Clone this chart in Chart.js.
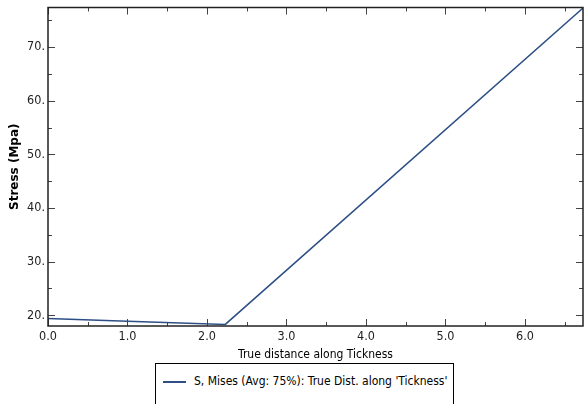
<!DOCTYPE html>
<html><head><meta charset="utf-8">
<script src="https://cdn.jsdelivr.net/npm/chart.js@4"></script>
<style>
html,body{margin:0;padding:0;background:#fff;overflow:hidden;}
#wrap{position:relative;width:585px;height:404px;overflow:hidden;}
#cv{position:absolute;left:0;top:-3px;}
#legend{position:absolute;left:155px;top:363px;width:299px;height:41px;border:1px solid #000;border-bottom:none;box-sizing:border-box;font-family:"DejaVu Sans Condensed","DejaVu Sans",sans-serif;font-stretch:condensed;font-size:12px;color:#000;}
#legend .ln{position:absolute;left:7px;top:17px;width:23px;height:0;border-top:2px solid #2d4f86;}
#legend .tx{position:absolute;left:38px;top:10px;white-space:nowrap;}
</style></head>
<body><div id="wrap"><canvas id="cv" width="585" height="365"></canvas>
<div id="legend"><div class="ln"></div><div class="tx">S, Mises (Avg: 75%): True Dist. along 'Tickness'</div></div></div>
<script>
const xValues = [0.0, 1.0, 2.23, 6.73];
const yValues = [19.4, 18.9, 18.3, 77.3];
const xTicks = [0,1,2,3,4,5,6];
const yTicks = [20,30,40,50,60,70];
const seriesName = "S, Mises (Avg: 75%): True Dist. along 'Tickness'";
const xTitle = "True distance along Tickness";
const yTitle = "Stress (Mpa)";

const condFam = "'DejaVu Sans Condensed','DejaVu Sans',sans-serif";
const tickFont = {family:condFam, size:12.5};

const innerTicks = {
  id:'innerTicks',
  afterDraw(chart){
    const {ctx, chartArea:a, scales:{x,y}} = chart;
    ctx.save();
    ctx.strokeStyle='#444'; ctx.lineWidth=1;
    const drawX=(v,len)=>{const p=Math.round(x.getPixelForValue(v))+0.5;
      ctx.beginPath();ctx.moveTo(p,a.bottom);ctx.lineTo(p,a.bottom-len);ctx.moveTo(p,a.top);ctx.lineTo(p,a.top+len);ctx.stroke();};
    const drawY=(v,len)=>{const p=Math.round(y.getPixelForValue(v))+0.5;
      ctx.beginPath();ctx.moveTo(a.left,p);ctx.lineTo(a.left+len,p);ctx.moveTo(a.right,p);ctx.lineTo(a.right-len,p);ctx.stroke();};
    for(let v=0; v<=x.max; v+=0.5){ drawX(v, Number.isInteger(v)?7:4); }
    for(let v=20; v<=y.max; v+=5){ drawY(v, v%10===0?7:4); }
    ctx.strokeStyle='#222'; ctx.lineWidth=1.5;
    ctx.strokeRect(a.left, a.top, a.right-a.left, a.bottom-a.top);
    ctx.restore();
  }
};

new Chart(document.getElementById('cv'), {
  type:'scatter',
  data:{datasets:[{label:seriesName, data:xValues.map((v,i)=>({x:v,y:yValues[i]})), showLine:true,
    borderColor:'#2d4f86', borderWidth:1.5, pointRadius:0, fill:false, tension:0}]},
  options:{
    responsive:false, animation:false,
    layout:{padding:{top:0,right:2,left:0,bottom:0}},
    plugins:{legend:{display:false}, tooltip:{enabled:false}},
    scales:{
      x:{type:'linear', min:0, max:6.73,
        afterBuildTicks:(s)=>{s.ticks=xTicks.map(v=>({value:v}));},
        afterFit:(s)=>{s.height=36;},
        grid:{display:false, drawTicks:false}, border:{display:false},
        ticks:{font:tickFont, color:'#222', padding:3, maxRotation:0, callback:(v)=>Number(v).toFixed(1)},
        title:{display:true, text:xTitle, font:{family:condFam,size:12}, color:'#000', padding:{top:1,bottom:0}}
      },
      y:{type:'linear', min:18, max:77.4,
        afterBuildTicks:(s)=>{s.ticks=yTicks.map(v=>({value:v}));},
        afterFit:(s)=>{s.width=48;},
        grid:{display:false, drawTicks:false}, border:{display:false},
        ticks:{font:tickFont, color:'#222', padding:3, callback:(v)=>Number(v).toFixed(0)+'.'},
        title:{display:true, text:yTitle, font:{family:"'DejaVu Sans',sans-serif",size:12,weight:'bold'}, color:'#000', padding:{top:8,bottom:0}}
      }
    }
  },
  plugins:[innerTicks]
});
</script></body></html>
